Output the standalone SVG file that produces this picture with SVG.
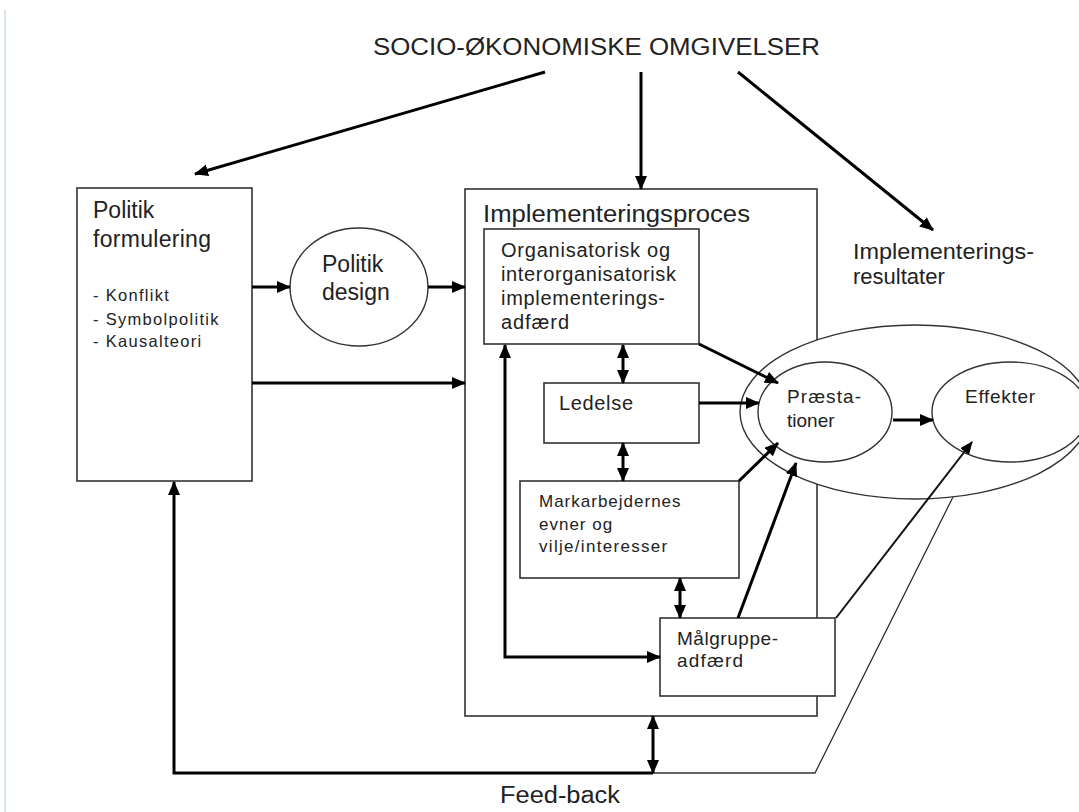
<svg xmlns="http://www.w3.org/2000/svg" width="1079" height="812" viewBox="0 0 1079 812">
<defs>
<style>
text{font-family:"Liberation Sans",Arial,sans-serif;fill:#222}
.box{fill:#fff;stroke:#333;stroke-width:1.6}
.ell{fill:#fff;stroke:#333;stroke-width:1.4}
.thick{fill:none;stroke:#000;stroke-width:3}
.thin{fill:none;stroke:#111;stroke-width:2}
.hair{fill:none;stroke:#333;stroke-width:1.3}
</style>
<marker id="ah" markerUnits="userSpaceOnUse" markerWidth="14" markerHeight="12" refX="13" refY="6" orient="auto-start-reverse"><path d="M0,0 L14,6 L0,12 z" fill="#000"/></marker>
<marker id="ahs" markerUnits="userSpaceOnUse" markerWidth="13" markerHeight="11" refX="12" refY="5.5" orient="auto"><path d="M0,0 L13,5.5 L0,11 z" fill="#000"/></marker>
</defs>
<rect width="1079" height="812" fill="#fff"/>
<line x1="5" y1="10" x2="5" y2="812" stroke="#c8dcec" stroke-width="1.5"/>

<g id="title"><text x="373" y="55" font-size="23" textLength="447" lengthAdjust="spacingAndGlyphs">SOCIO-ØKONOMISKE OMGIVELSER</text></g>

<g id="impl-proces">
<rect class="box" x="465" y="189" width="352" height="527"/>
<text x="483" y="222" font-size="23" textLength="267" lengthAdjust="spacingAndGlyphs">Implementeringsproces</text>
</g>

<g id="politik-formulering">
<rect class="box" x="77" y="188" width="175" height="293"/>
<text x="93" y="218" font-size="23">Politik</text>
<text x="93" y="247" font-size="23" textLength="118">formulering</text>
<text x="93" y="301" font-size="16.5" letter-spacing="1.3">- Konflikt</text>
<text x="93" y="325" font-size="16.5" letter-spacing="1.3">- Symbolpolitik</text>
<text x="93" y="347" font-size="16.5" letter-spacing="1.3">- Kausalteori</text>
</g>

<g id="politik-design">
<ellipse class="ell" cx="359" cy="287" rx="69" ry="59"/>
<text x="322" y="272" font-size="23">Politik</text>
<text x="322" y="300" font-size="23">design</text>
</g>

<g id="org-adfaerd">
<rect class="box" x="484" y="229" width="215" height="115"/>
<text x="501" y="257" font-size="20" textLength="169">Organisatorisk og</text>
<text x="501" y="281" font-size="20" textLength="175">interorganisatorisk</text>
<text x="501" y="305" font-size="20" textLength="164">implementerings-</text>
<text x="501" y="329" font-size="20" textLength="68">adfærd</text>
</g>

<g id="ledelse">
<rect class="box" x="544" y="383" width="155" height="60"/>
<text x="559" y="410" font-size="20" textLength="74">Ledelse</text>
</g>

<g id="markarbejdernes">
<rect class="box" x="520" y="481" width="219" height="97"/>
<text x="539" y="507" font-size="17" letter-spacing="1">Markarbejdernes</text>
<text x="539" y="530" font-size="17" letter-spacing="1">evner og</text>
<text x="539" y="552" font-size="17" letter-spacing="1.3">vilje/interesser</text>
</g>

<g id="maalgruppe">
<rect class="box" x="660" y="618" width="175" height="78"/>
<text x="677" y="645" font-size="19" textLength="101">Målgruppe-</text>
<text x="677" y="667" font-size="19" textLength="66">adfærd</text>
</g>

<g id="resultater">
<path class="hair" d="M653,773 L815,773 L953,497"/>
<ellipse class="ell" cx="915" cy="412" rx="175" ry="87"/>
<text x="853" y="259" font-size="22" textLength="181" lengthAdjust="spacingAndGlyphs">Implementerings-</text>
<text x="853" y="284" font-size="22">resultater</text>
</g>

<g id="praestationer">
<ellipse class="ell" cx="825" cy="412" rx="67" ry="50"/>
<text x="787" y="403" font-size="19" textLength="74">Præsta-</text>
<text x="787" y="427" font-size="19">tioner</text>
</g>

<g id="effekter">
<ellipse class="ell" cx="1010" cy="412" rx="78" ry="50"/>
<text x="965" y="403" font-size="19" textLength="70">Effekter</text>
</g>

<g id="feedback-label"><text x="500" y="803" font-size="23" textLength="120" lengthAdjust="spacingAndGlyphs">Feed-back</text></g>

<g id="connectors">
<line class="thick" x1="545" y1="72" x2="195" y2="174" marker-end="url(#ah)"/>
<line class="thick" x1="641" y1="72" x2="641" y2="189" marker-end="url(#ah)"/>
<line class="thick" x1="738" y1="72" x2="933" y2="230" marker-end="url(#ah)"/>
<line class="thick" x1="252" y1="287" x2="290" y2="287" marker-end="url(#ah)"/>
<line class="thick" x1="428" y1="287" x2="465" y2="287" marker-end="url(#ah)"/>
<line class="thick" x1="252" y1="383" x2="465" y2="383" marker-end="url(#ah)"/>
<line class="thick" x1="623" y1="345" x2="623" y2="383" marker-start="url(#ah)" marker-end="url(#ah)"/>
<line class="thick" x1="623" y1="443" x2="623" y2="481" marker-start="url(#ah)" marker-end="url(#ah)"/>
<line class="thick" x1="680" y1="578" x2="680" y2="618" marker-start="url(#ah)" marker-end="url(#ah)"/>
<path class="thick" d="M505,345 L505,657 L660,657" marker-start="url(#ah)" marker-end="url(#ah)"/>
<line class="thick" x1="653" y1="716" x2="653" y2="773" marker-start="url(#ah)" marker-end="url(#ah)"/>
<path class="thick" d="M653,773 L174,773 L174,482" marker-end="url(#ah)"/>
<line class="thick" x1="699" y1="344" x2="778" y2="383" marker-end="url(#ah)"/>
<line class="thick" x1="699" y1="403" x2="759" y2="403" marker-end="url(#ah)"/>
<line class="thick" x1="739" y1="481" x2="778" y2="443" marker-end="url(#ah)"/>
<line class="thick" x1="738" y1="618" x2="796" y2="463" marker-end="url(#ah)"/>
<line class="thick" x1="893" y1="420" x2="933" y2="420" marker-end="url(#ah)"/>
<line class="thin" x1="836" y1="618" x2="972" y2="442" marker-end="url(#ahs)"/>
</g>
</svg>
